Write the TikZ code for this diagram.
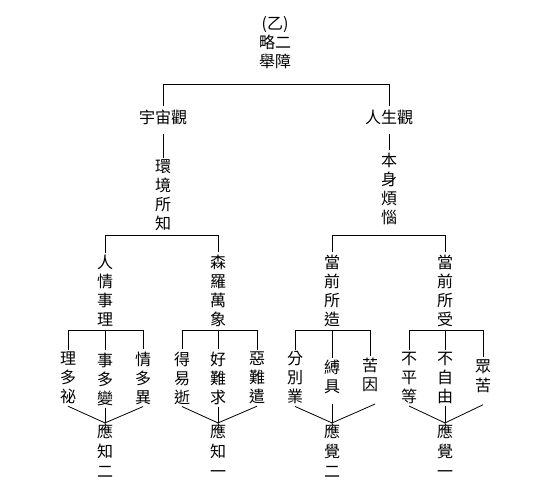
\documentclass[tikz,border=0pt]{standalone}
\usepackage{fontspec}
\newfontfamily\cjk{Noto Sans CJK TC}
\begin{document}
\begin{tikzpicture}[x=1pt,y=-1pt,
  t/.style={font=\cjk\fontsize{16}{19}\selectfont, align=center, inner sep=2pt},
  ansnode/.style={font=\cjk\fontsize{16}{20}\selectfont, align=center, inner sep=1pt},
  conn/.style={draw=black, line width=0.8pt}]
\fill[white] (0,0) rectangle (551,501);
\useasboundingbox (0,0) rectangle (551,501);
% nodes
\node[t] (root) at (275,43) {(乙)\\略二\\舉障};
\node[t,inner sep=3pt] (u) at (163,117) {宇宙觀};
\node[t,inner sep=3pt] (r) at (389,117) {人生觀};
\node[t] (w) at (163,195.5) {環\\境\\所\\知};
\node[t] (s) at (389,188.5) {本\\身\\煩\\惱};
\node[t] (a) at (105,290.5) {人\\情\\事\\理};
\node[t] (b) at (218,290.5) {森\\羅\\萬\\象};
\node[t] (c) at (332,290.5) {當\\前\\所\\造};
\node[t] (d) at (445,290.5) {當\\前\\所\\受};
\node[t] (a1) at (68,378) {理\\多\\祕};
\node[t] (a2) at (105,379) {事\\多\\變};
\node[t] (a3) at (143,378) {情\\多\\異};
\node[t] (b1) at (182,378) {得\\易\\逝};
\node[t] (b2) at (218,378) {好\\難\\求};
\node[t] (b3) at (257,378) {惡\\難\\遣};
\node[t] (c1) at (295,378) {分\\別\\業};
\node[t] (c2) at (332,377) {縛\\具};
\node[t] (c3) at (370,375) {苦\\因};
\node[t] (d1) at (409,378) {不\\平\\等};
\node[t] (d2) at (445,378) {不\\自\\由};
\node[t] (d3) at (483,376) {眾\\苦};
\node[ansnode] (A) at (105,451) {應\\知\\二};
\node[ansnode] (B) at (218,451) {應\\知\\一};
\node[ansnode] (C) at (332,451) {應\\覺\\二};
\node[ansnode] (D) at (445,451) {應\\覺\\一};
% junction coordinates
\coordinate (j0) at (276,84);
\coordinate (j1) at (163,235);
\coordinate (j2) at (389,235);
\coordinate (k1) at (105,330);
\coordinate (k2) at (218,330);
\coordinate (k3) at (332,330);
\coordinate (k4) at (445,330);
% top level
\draw[conn] (u.north) -- (u.north |- j0) -- (r.north |- j0) -- (r.north);
\draw[conn, shorten <=6pt] (u) -- (w);
\draw[conn, shorten <=6pt] (r) -- (s);
% second level
\draw[conn] (a.north) -- (a.north |- j1) -- (b.north |- j1) -- (b.north);
\draw[conn] (c.north) -- (c.north |- j2) -- (d.north |- j2) -- (d.north);
% third level
\draw[conn] (a1.north) -- (a1.north |- k1) -- (a3.north |- k1) -- (a3.north);
\draw[conn] (k1) -- (a2.north);
\draw[conn] (b1.north) -- (b1.north |- k2) -- (b3.north |- k2) -- (b3.north);
\draw[conn] (k2) -- (b2.north);
\draw[conn] (c1.north) -- (c1.north |- k3) -- (c3.north |- k3) -- (c3.north);
\draw[conn] (k3) -- (c2.north);
\draw[conn] (d1.north) -- (d1.north |- k4) -- (d3.north |- k4) -- (d3.north);
\draw[conn] (k4) -- (d2.north);
% converging lines
\draw[conn] (a1.south) -- (A.north);
\draw[conn] (a2.south) -- (A.north);
\draw[conn] (a3.south) -- (A.north);
\draw[conn] (b1.south) -- (B.north);
\draw[conn] (b2.south) -- (B.north);
\draw[conn] (b3.south) -- (B.north);
\draw[conn] (c1.south) -- (C.north);
\draw[conn] ([yshift=-8pt]c2.south) -- (C.north);
\draw[conn] ([shift={(5pt,-10pt)}]c3.south) -- (C.north);
\draw[conn] (d1.south) -- (D.north);
\draw[conn] (d2.south) -- (D.north);
\draw[conn] ([yshift=-10pt]d3.south) -- (D.north);
\end{tikzpicture}
\end{document}
